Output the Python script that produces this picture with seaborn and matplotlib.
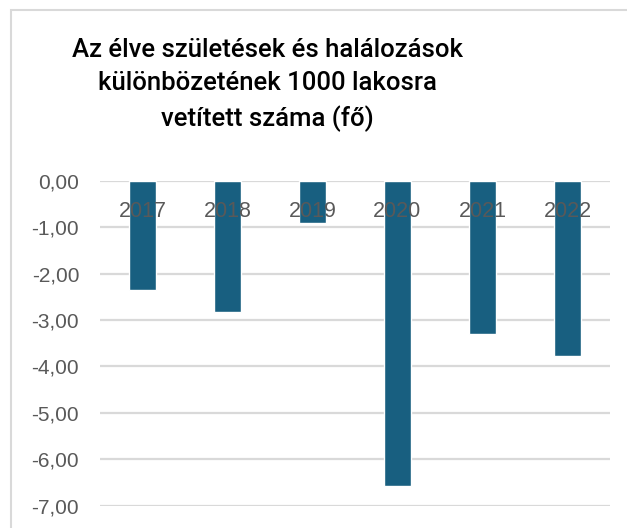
import matplotlib
matplotlib.use("Agg")
import matplotlib.pyplot as plt
import matplotlib.patches as mpatches
import seaborn as sns
import pandas as pd

# data
years = ["2017", "2018", "2019", "2020", "2021", "2022"]
values = [-2.35, -2.83, -0.92, -6.58, -3.30, -3.77]
yticks = [0, -1, -2, -3, -4, -5, -6, -7]
title = "Az élve születések és halálozások\nkülönbözetének 1000 lakosra\nvetített száma (fő)"

BAR_COLOR = "#185f80"
GRID_COLOR = "#d9d9d9"
TEXT_GRAY = "#595959"

sns.set_theme(style="white")
plt.rcParams["font.family"] = ["Liberation Sans", "DejaVu Sans"]

df = pd.DataFrame({"year": years, "value": values})

fig = plt.figure(figsize=(6.27, 5.28), dpi=100)
ax = fig.add_axes([100 / 627, 22.3 / 528, 510 / 627, 325 / 528])

# chart frame (cropped on the right and bottom in the reference)
fig.patches.append(mpatches.Rectangle(
    (10.5 / 627, -0.1), 1.2, 1.1 - 10.5 / 528,
    transform=fig.transFigure, fill=False, edgecolor=GRID_COLOR, lw=1.5))

for t in yticks:
    ax.axhline(t, color=GRID_COLOR, lw=1.6, zorder=0)

sns.barplot(data=df, x="year", y="value", color=BAR_COLOR, saturation=1,
            width=0.32, ax=ax, zorder=1)

# year labels sit on top of the bars
ax.set_axisbelow(False)
ax.set_ylim(-7, 0)
ax.set_xlim(-0.5, len(years) - 0.5)
ax.set_yticks(yticks)
ax.set_yticklabels([f"{t:.2f}".replace(".", ",") for t in yticks])
ax.set_xlabel("")
ax.set_ylabel("")
ax.xaxis.tick_top()
ax.tick_params(axis="x", length=0, pad=-30, labelsize=15.5, labelcolor=TEXT_GRAY)
ax.tick_params(axis="y", length=0, pad=15, labelsize=15, labelcolor=TEXT_GRAY)
ax.grid(False)
for s in ax.spines.values():
    s.set_visible(False)

fig.text(267 / 627, 1 - 38 / 528, title, ha="center", va="top",
         fontsize=18.5, family=["Roboto", "DejaVu Sans"], fontweight="medium",
         color="black", linespacing=1.5)

fig.savefig("out.png", dpi=100)
